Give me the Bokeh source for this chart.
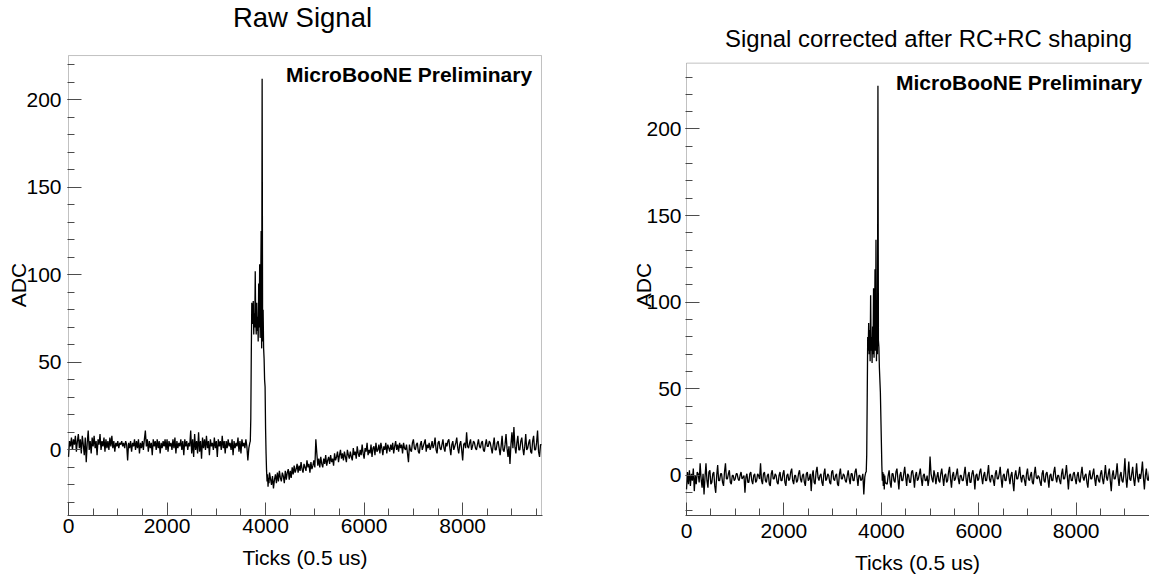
import numpy as np
from bokeh.plotting import figure
from bokeh.models import Range1d, SingleIntervalTicker, FixedTicker, Label, BoxAnnotation
from bokeh.layouts import row, column
from bokeh.embed import file_html
from bokeh.resources import INLINE

# ---------------- data ----------------
STEP = 20          # ticks between samples outside the pulse
PULSE_STEP = 10    # ticks between samples inside the pulse
pre_start = 0
pulse_start = 3690
post_start = 4120

raw_pre = [-4, 5, 2, 7, 0, 6, 3, 8, -1, 5, 9, 1, 6, -2, 8, 3, -3, 7, -7, 4,
           11, 0, 5, -2, 7, 2, 8, 1, 5, -3, 6, 3, 9, 0, 5, 2, 7, -1, 6, 1,
           5, 0, 7, 2, 8, 1, 5, -1, 4, 2, 5, 1, 4, 3, 5, 2, 4, 1, 5, 3,
           -6, 4, 1, 5, -1, 4, 2, 6, 0, 5, 1, 6, -2, 4, 1, 5, 0, 6, 11, 2,
           6, -1, 5, 1, 4, -3, 6, 2, 5, 0, 6, 1, 5, -2, 4, 1, 5, 2, 6, 0,
           6, -1, 5, 2, 4, 0, 6, 1, 7, -2, 5, 1, 4, 2, 6, 0, 5, -3, 6, 2,
           5, 0, 4, 2, 11, -2, 6, -4, 9, 0, 5, -2, 10, -1, 5, -5, 7, 1, 6, 0,
           8, 1, 5, -3, 6, 2, 4, 0, 7, 1, 5, -4, 6, 2, 5, 0, 8, 1, 5, -2,
           5, 1, 6, 2, 4, 0, 6, -3, 5, 1, 4, 2, 7, -1, 5, -2, 6, 2, 4, 1,
           6, 2, -6, 1, 4]
raw_pulse = [5, 18, 55, 84, 80, 72, 85, 66, 78, 70, 102, 74, 66, 84, 68, 76, 62, 95, 70, 106,
             64, 90, 125, 58, 212, 62, 80, 58, 52, 40, 36, 12, -2, -12, -18, -14, -21, -16, -19, -13]
raw_post = [-20, -15, -22, -17, -14, -19, -13, -18, -12, -16, -18, -13, -15, -19, -12, -17, -13, -11, -17, -12,
            -16, -10, -14, -9, -13, -11, -8, -13, -9, -12, -7, -11, -13, -8, -10, -12, -6, -10, -8, -13,
            -7, -11, -9, -6, -10, 6, -2, -9, -5, -10, -4, -8, -10, -5, -8, -3, -9, -6, -4, -8,
            -3, -7, -5, -9, -2, -6, -4, -1, -7, -3, 0, -5, -2, -6, -1, -4, -7, 0, -3, -5,
            -1, -4, -6, 1, -3, -1, -5, 2, -2, -4, 0, -3, 3, -2, -5, 1, -1, 4, -3, 0,
            -2, 3, -4, 1, 2, -3, 4, -1, 0, 3, -2, 4, 1, -3, 2, 0, 4, -2, 3, 1,
            -1, 3, 0, 4, -2, 2, 5, 0, 3, -1, 4, 1, 3, -2, 4, 1, 0, 3, -2, -7,
            3, 0, -1, 4, 6, 1, 0, 3, 4, -1, -2, 3, 5, 0, 2, 4, 6, -1, 3, 1,
            4, 0, 2, 5, 1, 3, 7, 0, -2, 4, 5, 1, 0, 3, 6, 1, -1, 4, 2, 5,
            6, 1, -3, 3, 5, 0, 2, 4, 7, 1, -2, 3, 5, 0, -6, 3, 4, 1, 10, 2,
            1, 4, 6, 0, 2, 5, 4, 1, 0, 3, 6, 2, 1, 4, 5, 0, -1, 3, 6, 2,
            2, 5, 4, 1, -2, 3, 7, 0, 0, 4, 5, 1, -3, 2, 8, 0, -1, 3, 9, 1,
            -4, 2, -8, 3, 10, 1, 13, 2, -2, 4, 8, 0, 0, 5, 7, 1, -3, 2, 9, 0,
            1, 4, 6, -1, -2, 5, 8, 0, 0, 4, 11, -1, -4, 3, 3]

cor_pre = [-8, 2, -5, 3, -6, 1, -3, 4, -9, 0, -5, 2, 1, -4, 7, -2, -7, 1, -11, -1,
           7, -3, -7, 2, 3, -5, -4, 1, 2, -6, -10, 0, 6, -3, -3, 1, 1, -4, -6, 2,
           7, -2, -2, 1, 3, -4, -5, 0, 0, -3, -2, 1, 1, -2, -3, 0, 2, -2, -1, 0,
           -10, -1, 1, -4, -4, 1, 2, -3, -5, 0, 1, -4, -3, 1, 0, -2, 7, -3, -5, 1,
           2, -3, -4, 0, 1, -5, -6, 1, 3, -2, -2, 1, 0, -4, -5, 0, 2, -3, -3, 1,
           3, -4, -6, 0, 1, -3, -2, 2, 4, -3, -5, 0, 0, -4, -3, 1, 3, -2, -4, 0,
           1, -4, -6, 1, 2, -3, -2, 1, -9, 0, 3, -4, -5, 2, 5, -1, -3, 0, 1, -4,
           -6, 1, 4, -3, -2, 1, 0, -4, -5, 2, 3, -2, -3, 0, 1, -5, -6, 1, 4, -2,
           -2, 1, 0, -3, -4, 0, 3, -2, -5, 1, 1, -3, -3, 2, 4, -1, -6, 0, 0, -3,
           -2, 1, -11, -1, 2]
cor_pulse = [2, 12, 45, 80, 72, 88, 70, 84, 66, 104, 72, 80, 65, 86, 70, 108, 68, 82, 119, 72,
             136, 66, 96, 70, 225, 78, 74, 62, 55, 48, 34, 20, 6, -3, 2, -6, 1, -8, 0, -4]
cor_post = [-5, 0, 3, -4, -7, 1, 1, -3, -4, 2, 4, -2, -8, 0, 2, -3, -3, 1, 5, -1,
            -6, 1, 0, -4, -4, 2, 3, -1, -7, 0, 2, -3, -2, 1, 4, -2, -6, 0, 1, -3,
            -3, 0, -6, -2, 11, 1, -2, -4, 3, 0, -5, -1, 2, -3, -4, 1, 4, -1, -6, 0,
            1, -4, -3, 2, 5, -2, -7, 0, 2, -3, -2, 1, 4, -2, -5, 0, 0, -3, -3, 1,
            5, -2, -6, 0, 2, -4, -4, 1, 3, -1, -8, 0, 1, -3, -2, 2, 4, -1, -5, 0,
            2, -3, -3, 1, 6, -2, -4, 0, 0, -3, -6, 1, 3, -2, -2, 1, 5, -2, -7, 0,
            1, -3, -3, 2, 4, -1, -5, 0, 2, -4, -9, 0, 3, -2, -2, 1, 5, -1, -4, 0,
            0, -3, -6, 1, 4, -2, -3, 0, 2, -4, -5, 1, 5, -1, -2, 0, -1, -4, -6, 1,
            3, -3, -4, 1, 2, -2, -7, 0, 1, -3, -3, 2, 5, -1, -4, 0, 0, -3, -5, 1,
            4, -2, -2, 1, 6, -1, -8, 0, 1, -3, -3, 1, 2, -2, -5, 0, 2, -3, -4, 1,
            5, -1, -3, 0, 1, -4, -7, 0, 3, -2, -2, 1, 4, -2, -6, 0, 0, -3, -4, 1,
            3, -2, -5, 0, 6, -1, -3, 1, 4, -3, -9, 0, 3, -2, -2, 1, 7, -1, -6, 0,
            2, -3, -4, 1, 10, -1, -7, 0, 8, -2, -3, 1, 5, -2, -6, 0, 7, -1, -4, 1,
            -2, 2, 8, -1, -8, 0, 4, -2, -3, 1, 6, -1, -5, 2, 1]

titles = ["Raw Signal", "Signal corrected after RC+RC shaping"]
x_title = "Ticks (0.5 us)"
y_title = "ADC"
tag = "MicroBooNE Preliminary"
y_major = [0, 50, 100, 150, 200]


def series(pre, pulse, post):
    x = np.concatenate([pre_start + STEP * np.arange(len(pre)),
                        pulse_start + PULSE_STEP * np.arange(len(pulse)),
                        post_start + STEP * np.arange(len(post))])
    y = np.concatenate([pre, pulse, post]).astype(float)
    return x, y


FONT = "Liberation Sans"
AX = "#4d4d4d"
BOX = "#333333"
TH, FH, BOTTOM = 54, 461, 62     # title strip, plot frame, bottom border (px)


def make_fig(xr, yr, mb_left, mb_right, fw, y_minor):
    p = figure(frame_width=fw, frame_height=FH,
               x_range=xr, y_range=Range1d(*yr),
               output_backend="svg", toolbar_location=None,
               min_border_left=mb_left, min_border_right=mb_right,
               min_border_top=0, min_border_bottom=BOTTOM,
               background_fill_color="white", border_fill_color="white")
    p.xgrid.visible = False
    p.ygrid.visible = False
    p.outline_line_color = None
    xax = p.below[0]
    yax = p.left[0]
    xax.ticker = SingleIntervalTicker(interval=2000, num_minor_ticks=4)
    yax.ticker = FixedTicker(ticks=y_major, minor_ticks=y_minor)
    for ax in (xax, yax):
        ax.axis_line_color = AX
        ax.major_tick_line_color = AX
        ax.minor_tick_line_color = AX
        ax.major_tick_in = 14
        ax.major_tick_out = 0
        ax.minor_tick_in = 7
        ax.minor_tick_out = 0
        ax.major_label_text_font = FONT
        ax.major_label_text_font_size = "21px"
        ax.major_label_text_color = "black"
        ax.axis_label_text_font = FONT
        ax.axis_label_text_font_size = "21px"
        ax.axis_label_text_font_style = "normal"
        ax.axis_label_text_color = "black"
    yax.axis_line_color = None   # the box annotation draws the left edge
    xax.major_tick_in = 13
    xax.axis_label = x_title
    yax.axis_label = y_title
    return p


def make_title_strip(xr, yr, mb_left, mb_right, fw):
    t = figure(frame_width=fw, frame_height=TH, x_range=xr, y_range=Range1d(*yr),
               output_backend="svg", toolbar_location=None,
               x_axis_type=None, y_axis_type=None,
               min_border_left=mb_left, min_border_right=mb_right,
               min_border_top=0, min_border_bottom=0,
               background_fill_color="white", border_fill_color="white")
    t.xgrid.visible = False
    t.ygrid.visible = False
    t.outline_line_color = None
    return t


def add_text(p, x, y, text, size, bold=False, align="center"):
    p.add_layout(Label(x=x, y=y, text=text, text_align=align, text_baseline="middle",
                       text_font=FONT, text_font_style="bold" if bold else "normal",
                       text_font_size=size, text_color="black"))


x1, y1 = series(raw_pre, raw_pulse, raw_post)
x2, y2 = series(cor_pre, cor_pulse, cor_post)

# ---- left: raw signal ----
xr1 = Range1d(-20.3, 9620.3)
p1 = make_fig(xr1, (-37.48, 225.89), 67, 58, 475, list(range(-30, 221, 10)))
p1.below[0].major_label_standoff = 3
p1.below[0].axis_label_standoff = 10
p1.left[0].major_label_standoff = 6
p1.left[0].axis_label_standoff = -7
p1.add_layout(BoxAnnotation(left=0, right=9600, bottom=-37.48, top=225.3,
                            fill_color=None, fill_alpha=0, line_color=BOX, line_width=1))
p1.line(x1, y1, line_color="black", line_width=1.3)
add_text(p1, 9410, 214.5, tag, "21px", bold=True, align="right")
t1 = make_title_strip(xr1, (225.89, 256.74), 67, 58, 475)
add_text(t1, 4749, 247.3, titles[0], "27.5px")

# ---- right: corrected signal (frame runs past the window edge) ----
xr2 = Range1d(-20.5, 9505)
p2 = make_fig(xr2, (-23.09, 242.99), 85, 0, 464, list(range(-20, 231, 10)))
p2.below[0].major_label_standoff = 8
p2.below[0].axis_label_standoff = 10
p2.left[0].major_label_standoff = 4
p2.left[0].axis_label_standoff = -12
p2.add_layout(BoxAnnotation(left=0, right=9600, bottom=-23.09, top=238.0,
                            fill_color=None, fill_alpha=0, line_color=BOX, line_width=1))
p2.line(x2, y2, line_color="black", line_width=1.3)
add_text(p2, 9355, 227.0, tag, "21px", bold=True, align="right")
t2 = make_title_strip(xr2, (242.99, 274.16), 85, 0, 464)
add_text(t2, 4968, 252.5, titles[1], "23.9px")

layout = row(column(t1, p1), column(t2, p2))
open("out.html", "w").write(file_html(layout, INLINE))
